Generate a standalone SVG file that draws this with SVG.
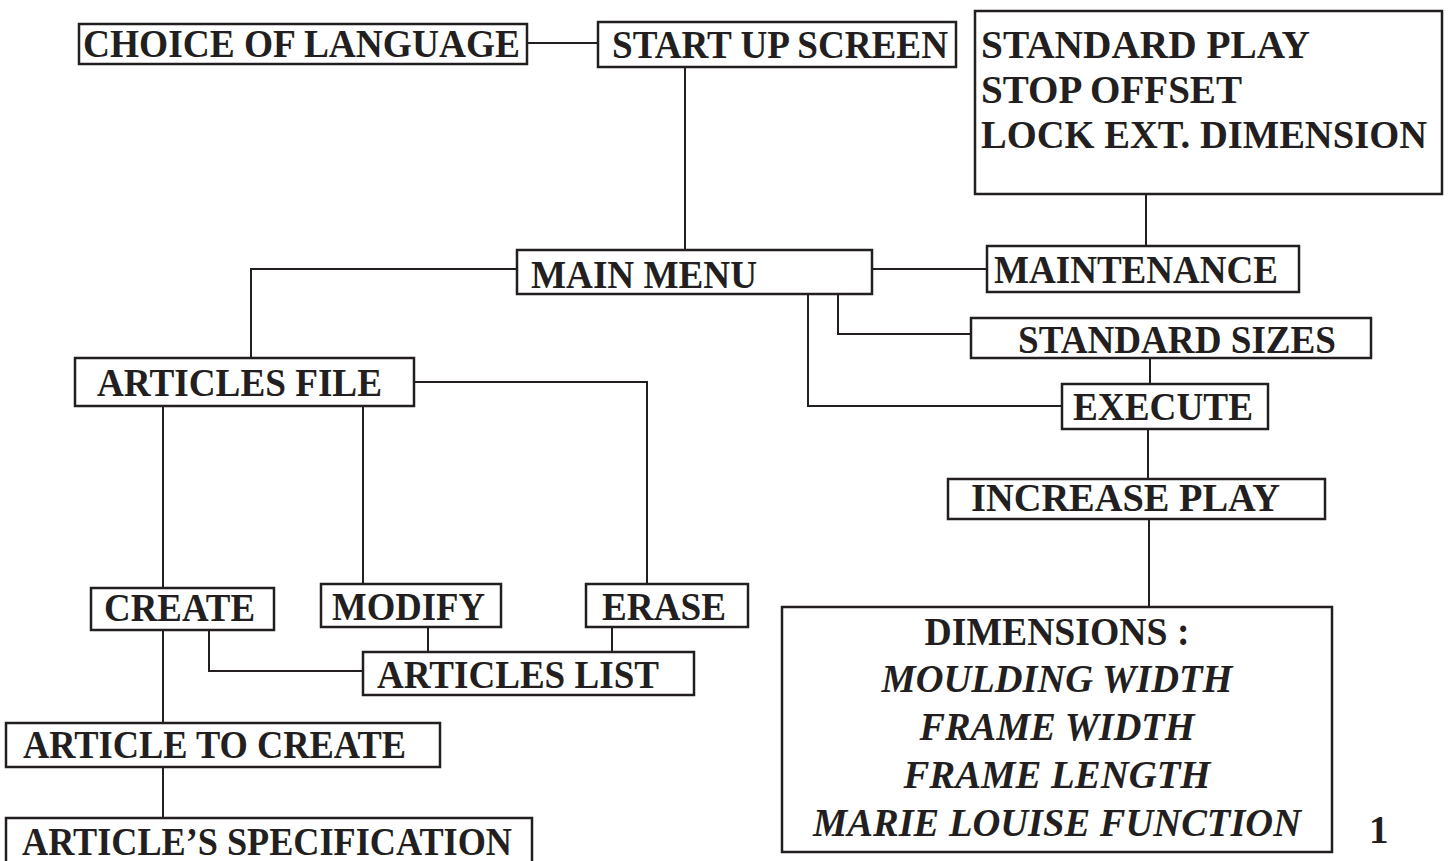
<svg xmlns="http://www.w3.org/2000/svg" width="1451" height="861" viewBox="0 0 1451 861">
<style>
.box{fill:#fff;stroke:#231f20;stroke-width:2.5}
.t{font-family:"Liberation Serif","Times New Roman",serif;font-weight:bold;font-size:39px;fill:#231f20}
.i{font-style:italic}
.c{fill:none;stroke:#231f20;stroke-width:2}
</style>
<rect width="1451" height="861" fill="#fff"/>
<g id="connectors">
<path class="c" d="M527 43H598"/>
<path class="c" d="M685 67V250"/>
<path class="c" d="M1146 194V246"/>
<path class="c" d="M872 269H987"/>
<path class="c" d="M517 269H251V358"/>
<path class="c" d="M838 294V334H971"/>
<path class="c" d="M808 294V406H1062"/>
<path class="c" d="M1150 358V384"/>
<path class="c" d="M1148 429V479"/>
<path class="c" d="M1149 518V607"/>
<path class="c" d="M414 382H647V583"/>
<path class="c" d="M163 406V588"/>
<path class="c" d="M363 406V584"/>
<path class="c" d="M428 627V652"/>
<path class="c" d="M612 627V652"/>
<path class="c" d="M209 630V671H363"/>
<path class="c" d="M163 630V723"/>
<path class="c" d="M163 767V818"/>
</g>
<g id="choice-of-language"><rect class="box" x="79" y="24" width="448" height="40"/><text class="t" x="83" y="57" textLength="437" lengthAdjust="spacingAndGlyphs">CHOICE OF LANGUAGE</text></g>
<g id="start-up-screen"><rect class="box" x="598" y="22" width="358" height="45"/><text class="t" x="612" y="58" textLength="336" lengthAdjust="spacingAndGlyphs">START UP SCREEN</text></g>
<g id="settings"><rect class="box" x="975" y="11" width="467" height="183"/>
<text class="t" x="981" y="58" textLength="329" lengthAdjust="spacingAndGlyphs">STANDARD PLAY</text>
<text class="t" x="981" y="103" textLength="261" lengthAdjust="spacingAndGlyphs">STOP OFFSET</text>
<text class="t" x="981" y="148" textLength="446" lengthAdjust="spacingAndGlyphs">LOCK EXT. DIMENSION</text></g>
<g id="main-menu"><rect class="box" x="517" y="250" width="355" height="44"/><text class="t" x="531" y="288" textLength="226" lengthAdjust="spacingAndGlyphs">MAIN MENU</text></g>
<g id="maintenance"><rect class="box" x="987" y="246" width="312" height="46"/><text class="t" x="994" y="283" textLength="284" lengthAdjust="spacingAndGlyphs">MAINTENANCE</text></g>
<g id="standard-sizes"><rect class="box" x="971" y="318" width="400" height="40"/><text class="t" x="1018" y="353" textLength="318" lengthAdjust="spacingAndGlyphs">STANDARD SIZES</text></g>
<g id="execute"><rect class="box" x="1062" y="384" width="206" height="45"/><text class="t" x="1073" y="420" textLength="180" lengthAdjust="spacingAndGlyphs">EXECUTE</text></g>
<g id="increase-play"><rect class="box" x="948" y="479" width="377" height="40"/><text class="t" x="971" y="511" textLength="309" lengthAdjust="spacingAndGlyphs">INCREASE PLAY</text></g>
<g id="dimensions"><rect class="box" x="782" y="607" width="550" height="245"/>
<text class="t" x="1057" y="645" text-anchor="middle" textLength="265" lengthAdjust="spacingAndGlyphs">DIMENSIONS :</text>
<text class="t i" x="1057" y="692" text-anchor="middle" textLength="351" lengthAdjust="spacingAndGlyphs">MOULDING WIDTH</text>
<text class="t i" x="1057" y="740" text-anchor="middle" textLength="275" lengthAdjust="spacingAndGlyphs">FRAME WIDTH</text>
<text class="t i" x="1057" y="788" text-anchor="middle" textLength="307" lengthAdjust="spacingAndGlyphs">FRAME LENGTH</text>
<text class="t i" x="1057" y="836" text-anchor="middle" textLength="488" lengthAdjust="spacingAndGlyphs">MARIE LOUISE FUNCTION</text></g>
<g id="page-number"><text class="t" x="1369" y="843">1</text></g>
<g id="articles-file"><rect class="box" x="75" y="358" width="339" height="48"/><text class="t" x="97" y="396" textLength="285" lengthAdjust="spacingAndGlyphs">ARTICLES FILE</text></g>
<g id="create"><rect class="box" x="91" y="588" width="183" height="42"/><text class="t" x="104" y="621" textLength="151" lengthAdjust="spacingAndGlyphs">CREATE</text></g>
<g id="modify"><rect class="box" x="321" y="584" width="180" height="43"/><text class="t" x="332" y="620" textLength="153" lengthAdjust="spacingAndGlyphs">MODIFY</text></g>
<g id="erase"><rect class="box" x="586" y="584" width="162" height="43"/><text class="t" x="602" y="620" textLength="124" lengthAdjust="spacingAndGlyphs">ERASE</text></g>
<g id="articles-list"><rect class="box" x="363" y="652" width="331" height="43"/><text class="t" x="377" y="688" textLength="282" lengthAdjust="spacingAndGlyphs">ARTICLES LIST</text></g>
<g id="article-to-create"><rect class="box" x="6" y="723" width="434" height="44"/><text class="t" x="23" y="758" textLength="383" lengthAdjust="spacingAndGlyphs">ARTICLE TO CREATE</text></g>
<g id="article-specification"><rect class="box" x="6" y="818" width="526" height="60"/><text class="t" x="22" y="855" textLength="490" lengthAdjust="spacingAndGlyphs">ARTICLE’S SPECIFICATION</text></g>
</svg>
